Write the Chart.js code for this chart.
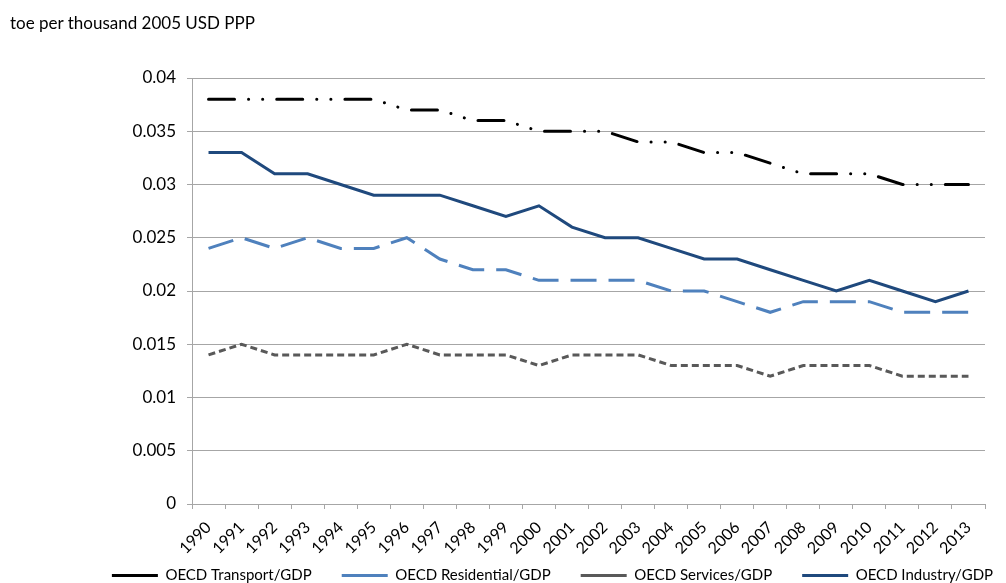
<!DOCTYPE html>
<html lang="en">
<head>
  <meta charset="UTF-8">
  <title>OECD energy intensity by sector</title>
  <script src="https://cdn.jsdelivr.net/npm/chart.js"></script>
  <style>
    body {
      margin: 0;
      background: #fff;
      font-family: Lato, sans-serif;
    }
    .wrap {
      position: relative;
      width: 1006px;
      height: 583px;
    }
    .unit {
      position: absolute;
      left: 10px;
      top: 12px;
      font-size: 17px;
      color: #000;
    }
  </style>
</head>
<body>
  <div class="wrap">
    <div class="unit">toe per thousand 2005 USD PPP</div>
    <canvas id="intensityChart" width="1006" height="583"></canvas>
  </div>

  <script>
    const years = ['1990', '1991', '1992', '1993', '1994', '1995', '1996', '1997', '1998', '1999', '2000', '2001',
                   '2002', '2003', '2004', '2005', '2006', '2007', '2008', '2009', '2010', '2011', '2012', '2013'];

    const transport = [0.038, 0.038, 0.038, 0.038, 0.038, 0.038, 0.037, 0.037, 0.036, 0.036, 0.035, 0.035,
                       0.035, 0.034, 0.034, 0.033, 0.033, 0.032, 0.031, 0.031, 0.031, 0.030, 0.030, 0.030];
    const residential = [0.024, 0.025, 0.024, 0.025, 0.024, 0.024, 0.025, 0.023, 0.022, 0.022, 0.021, 0.021,
                         0.021, 0.021, 0.020, 0.020, 0.019, 0.018, 0.019, 0.019, 0.019, 0.018, 0.018, 0.018];
    const services = [0.014, 0.015, 0.014, 0.014, 0.014, 0.014, 0.015, 0.014, 0.014, 0.014, 0.013, 0.014,
                      0.014, 0.014, 0.013, 0.013, 0.013, 0.012, 0.013, 0.013, 0.013, 0.012, 0.012, 0.012];
    const industry = [0.033, 0.033, 0.031, 0.031, 0.030, 0.029, 0.029, 0.029, 0.028, 0.027, 0.028, 0.026,
                      0.025, 0.025, 0.024, 0.023, 0.023, 0.022, 0.021, 0.020, 0.021, 0.020, 0.019, 0.020];

    const yTicks = [0, 0.005, 0.01, 0.015, 0.02, 0.025, 0.03, 0.035, 0.04];

    const gridGray = '#a6a6a6';

    // the legend in the original sits off-centre and lower than chart.js would put it,
    // and the rotated year labels hang down into the legend band
    const layoutTweaks = {
      id: 'layoutTweaks',
      afterLayout(chart) {
        const lg = chart.legend;
        if (lg) {
          lg.left += 60;
          lg.right += 60;
          lg.top += 10;
          lg.bottom += 10;
        }
        const x = chart.scales.x;
        x.bottom += 30;
        x.height += 30;
      }
    };

    const ctx = document.getElementById('intensityChart').getContext('2d');

    new Chart(ctx, {
      type: 'line',
      data: {
        labels: years,
        datasets: [
          {
            label: 'OECD Transport/GDP',
            data: transport,
            borderColor: '#000000',
            backgroundColor: '#000000',
            borderWidth: 3,
            borderDash: [26, 14, 0.1, 14, 0.1, 14],
            borderCapStyle: 'round'
          },
          {
            label: 'OECD Residential/GDP',
            data: residential,
            borderColor: '#4f81bd',
            backgroundColor: '#4f81bd',
            borderWidth: 3,
            borderDash: [26, 12]
          },
          {
            label: 'OECD Services/GDP',
            data: services,
            borderColor: '#595959',
            backgroundColor: '#595959',
            borderWidth: 3,
            borderDash: [7, 4]
          },
          {
            label: 'OECD Industry/GDP',
            data: industry,
            borderColor: '#1f497d',
            backgroundColor: '#1f497d',
            borderWidth: 3
          }
        ]
      },
      options: {
        responsive: false,
        animation: false,
        tension: 0,
        elements: {
          point: { radius: 0, hoverRadius: 0 },
          line: { fill: false }
        },
        layout: {
          padding: { top: 78, right: 21, left: 0, bottom: 0 }
        },
        plugins: {
          title: { display: false },
          tooltip: { enabled: false },
          legend: {
            position: 'bottom',
            labels: {
              usePointStyle: true,
              pointStyle: 'line',
              pointStyleWidth: 46,
              padding: 30,
              color: '#000',
              font: { family: 'Lato', size: 15 }
            }
          }
        },
        scales: {
          x: {
            offset: true,
            afterFit: (scale) => { scale.height = 24; },
            grid: {
              offset: true,
              drawOnChartArea: false,
              drawTicks: true,
              tickLength: 5,
              color: gridGray
            },
            border: { color: gridGray },
            ticks: {
              maxRotation: 45,
              minRotation: 45,
              autoSkip: false,
              padding: 9,
              color: '#000',
              font: { family: 'Lato', size: 16 }
            }
          },
          y: {
            min: 0,
            max: 0.04,
            afterFit: (scale) => { scale.width = 192; },
            afterBuildTicks: (scale) => {
              scale.ticks = yTicks.map(v => ({ value: v }));
            },
            grid: {
              color: gridGray,
              tickLength: 5
            },
            border: { color: gridGray },
            ticks: {
              padding: 11,
              color: '#000',
              font: { family: 'Lato', size: 17 },
              callback: (v) => String(+v.toFixed(3))
            }
          }
        }
      },
      plugins: [layoutTweaks]
    });
  </script>
</body>
</html>
